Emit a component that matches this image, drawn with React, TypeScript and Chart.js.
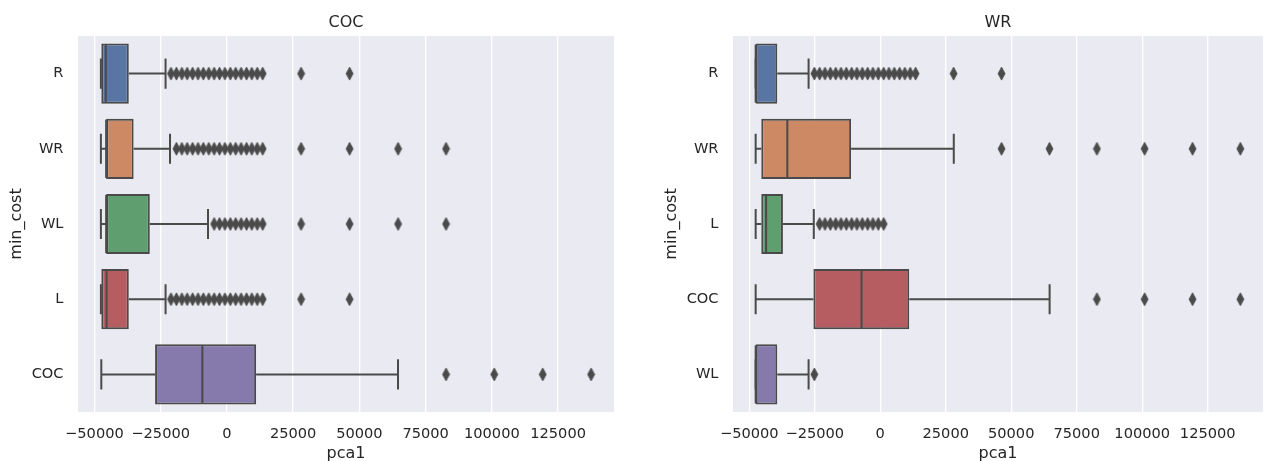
import React, { useEffect, useRef } from 'react';
import { Chart, registerables } from 'chart.js';

Chart.register(...registerables);

const FONT = '"DejaVu Sans", sans-serif';
const TEXT = '#262626';
const EDGE = '#4a4a4a';
const BG = '#eaeaf2';

const xTicks = [-50000, -25000, 0, 25000, 50000, 75000, 100000, 125000];
const xMin = -56200;
const xMax = 146100;
const palette = ['#5875a4', '#cc8963', '#5f9e6e', '#b55d60', '#857aab'];

// ---- Left panel: "COC" ----
const leftTitle = 'COC';
const leftCategories = ['R', 'WR', 'WL', 'L', 'COC'];
const leftLow = [-47560, -47560, -47560, -47560, -47400];
const leftQ1 = [-47400, -45580, -45580, -47400, -27110];
const leftMedian = [-45730, -45580, -45580, -45420, -9260];
const leftQ3 = [-37030, -35200, -29100, -37030, 11030];
const leftHigh = [-23150, -21470, -7130, -23150, 64580];
const leftOutR = [-21100, -19050, -17000, -15000, -12950, -10900, -8900, -6850, -4800, -2800, -750, 1300, 3300, 5350, 7400, 9400, 11450, 13500, 28000, 46300];
const leftOutWR = [-19050, -17000, -15000, -12950, -10900, -8900, -6850, -4800, -2800, -750, 1300, 3300, 5350, 7400, 9400, 11450, 13500, 28000, 46300, 64600, 82700];
const leftOutWL = [-4800, -2800, -750, 1300, 3300, 5350, 7400, 9400, 11450, 13500, 28000, 46300, 64600, 82700];
const leftOutL = [-21100, -19050, -17000, -15000, -12950, -10900, -8900, -6850, -4800, -2800, -750, 1300, 3300, 5350, 7400, 9400, 11450, 13500, 28000, 46300];
const leftOutCOC = [82700, 100900, 119200, 137450];

// ---- Right panel: "WR" ----
const rightTitle = 'WR';
const rightCategories = ['R', 'WR', 'L', 'COC', 'WL'];
const rightLow = [-47550, -47550, -47550, -47550, -47550];
const rightQ1 = [-47550, -45410, -45410, -25510, -47550];
const rightMedian = [-47550, -35460, -43570, -7140, -47550];
const rightQ3 = [-39290, -11120, -37140, 11080, -39290];
const rightHigh = [-27350, 28070, -25360, 64650, -27350];
const rightOutR = [-25150, -23150, -21100, -19050, -17000, -15000, -12950, -10900, -8900, -6850, -4800, -2800, -750, 1300, 3300, 5350, 7400, 9400, 11450, 13500, 28000, 46300];
const rightOutWR = [46300, 64600, 82700, 100900, 119200, 137450];
const rightOutL = [-23150, -21100, -19050, -17000, -15000, -12950, -10900, -8900, -6850, -4800, -2800, -750, 1300];
const rightOutCOC = [82700, 100900, 119200, 137450];
const rightOutWL = [-25150];

function makeDiamond(): HTMLCanvasElement {
  const c = document.createElement('canvas');
  c.width = 9;
  c.height = 15;
  const g = c.getContext('2d')!;
  g.beginPath();
  g.moveTo(4.5, 1);
  g.lineTo(8, 7.5);
  g.lineTo(4.5, 14);
  g.lineTo(1, 7.5);
  g.closePath();
  g.fillStyle = EDGE;
  g.fill();
  g.lineWidth = 0.8;
  g.strokeStyle = EDGE;
  g.stroke();
  return c;
}

type PanelProps = {
  left: number;
  title: string;
  categories: string[];
  low: number[];
  q1: number[];
  median: number[];
  q3: number[];
  high: number[];
  outliers: number[][];
  yAxisWidth: number;
  yTitlePad: number;
  padRight: number;
};

function BoxPanel(p: PanelProps) {
  const ref = useRef<HTMLCanvasElement | null>(null);
  useEffect(() => {
    if (!ref.current) return;
    const diamond = makeDiamond();
    const outlierPoints: { x: number; y: string }[] = [];
    p.outliers.forEach((arr, i) => arr.forEach((v) => outlierPoints.push({ x: v, y: p.categories[i] })));

    const boxParts = {
      id: 'boxParts',
      beforeDraw(chart: any) {
        const { ctx, chartArea: a } = chart;
        ctx.save();
        ctx.fillStyle = BG;
        ctx.fillRect(a.left, a.top, a.right - a.left, a.bottom - a.top);
        ctx.restore();
      },
      beforeDatasetsDraw(chart: any) {
        const { ctx } = chart;
        const xs = chart.scales.x;
        const ys = chart.scales.y;
        const band = Math.abs(ys.getPixelForValue(1) - ys.getPixelForValue(0));
        const cap = band * 0.8 * 0.25;
        ctx.save();
        ctx.strokeStyle = EDGE;
        ctx.lineWidth = 2;
        p.categories.forEach((_, i) => {
          const y = ys.getPixelForValue(i);
          const lo = xs.getPixelForValue(p.low[i]);
          const a = xs.getPixelForValue(p.q1[i]);
          const b = xs.getPixelForValue(p.q3[i]);
          const hi = xs.getPixelForValue(p.high[i]);
          ctx.beginPath();
          ctx.moveTo(lo, y);
          ctx.lineTo(a, y);
          ctx.moveTo(b, y);
          ctx.lineTo(hi, y);
          ctx.moveTo(lo, y - cap);
          ctx.lineTo(lo, y + cap);
          ctx.moveTo(hi, y - cap);
          ctx.lineTo(hi, y + cap);
          ctx.stroke();
        });
        ctx.restore();
      },
      afterDatasetsDraw(chart: any) {
        const { ctx } = chart;
        const xs = chart.scales.x;
        const ys = chart.scales.y;
        const band = Math.abs(ys.getPixelForValue(1) - ys.getPixelForValue(0));
        const half = band * 0.8 * 0.5;
        ctx.save();
        ctx.strokeStyle = EDGE;
        ctx.lineWidth = 2;
        p.categories.forEach((_, i) => {
          const y = ys.getPixelForValue(i);
          const m = xs.getPixelForValue(p.median[i]);
          ctx.beginPath();
          ctx.moveTo(m, y - half + 1);
          ctx.lineTo(m, y + half - 1);
          ctx.stroke();
        });
        ctx.restore();
      },
    };

    const chart = new Chart(ref.current, {
      type: 'bar',
      data: {
        labels: p.categories,
        datasets: [
          {
            type: 'line',
            data: outlierPoints as any,
            showLine: false,
            pointStyle: diamond as any,
            pointRadius: 4,
            pointBackgroundColor: EDGE,
            pointBorderColor: EDGE,
          } as any,
          {
            type: 'bar',
            data: p.q1.map((v, i) => [v, p.q3[i]]) as any,
            backgroundColor: palette,
            borderColor: EDGE,
            borderWidth: 2,
            borderSkipped: false,
            categoryPercentage: 0.8,
            barPercentage: 1,
          } as any,
        ],
      },
      options: {
        indexAxis: 'y',
        animation: false,
        responsive: false,
        maintainAspectRatio: false,
        events: [],
        layout: { padding: { left: 0, right: p.padRight, top: 0, bottom: 0 } },
        plugins: {
          legend: { display: false },
          tooltip: { enabled: false },
          title: {
            display: true,
            text: p.title,
            fullSize: false,
            color: TEXT,
            font: { family: FONT, size: 16, weight: 'normal' },
            padding: { top: 13.2, bottom: 3.6 },
          },
        },
        scales: {
          x: {
            type: 'linear',
            min: xMin,
            max: xMax,
            afterBuildTicks: (s: any) => {
              s.ticks = xTicks.map((value) => ({ value }));
            },
            afterFit: (s: any) => {
              s.height = 49;
            },
            grid: { color: '#ffffff', lineWidth: 1.3, drawTicks: false },
            border: { display: false },
            ticks: {
              padding: 13,
              color: TEXT,
              font: { family: FONT, size: 14.6 },
              maxRotation: 0,
              autoSkip: false,
              callback: (v: any) => {
                const n = Number(v);
                return n < 0 ? '\u2212' + Math.abs(n) : String(n);
              },
            },
            title: {
              display: true,
              text: 'pca1',
              color: TEXT,
              font: { family: FONT, size: 16 },
              padding: { top: -2, bottom: -2 },
            },
          },
          y: {
            type: 'category',
            offset: true,
            afterFit: (s: any) => {
              s.width = p.yAxisWidth;
            },
            grid: { display: false, drawTicks: false },
            border: { display: false },
            ticks: { padding: 14.5, color: TEXT, font: { family: FONT, size: 14.6 } },
            title: {
              display: true,
              text: 'min_cost',
              color: TEXT,
              font: { family: FONT, size: 16 },
              padding: { top: p.yTitlePad, bottom: p.yTitlePad },
            },
          },
        },
      } as any,
      plugins: [boxParts as any],
    });
    return () => chart.destroy();
  }, []);
  return (
    <canvas
      ref={ref}
      width={634}
      height={461}
      style={{ position: 'absolute', left: p.left, top: 0, width: 634, height: 461 }}
    />
  );
}

export default function App() {
  return (
    <div style={{ position: 'absolute', left: 0, top: 0, width: 1268, height: 461, background: '#ffffff', overflow: 'hidden' }}>
      <BoxPanel
        left={0}
        title={leftTitle}
        categories={leftCategories}
        low={leftLow}
        q1={leftQ1}
        median={leftMedian}
        q3={leftQ3}
        high={leftHigh}
        outliers={[leftOutR, leftOutWR, leftOutWL, leftOutL, leftOutCOC]}
        yAxisWidth={78}
        yTitlePad={7.6}
        padRight={20}
      />
      <BoxPanel
        left={634}
        title={rightTitle}
        categories={rightCategories}
        low={rightLow}
        q1={rightQ1}
        median={rightMedian}
        q3={rightQ3}
        high={rightHigh}
        outliers={[rightOutR, rightOutWR, rightOutL, rightOutCOC, rightOutWL]}
        yAxisWidth={99}
        yTitlePad={28}
        padRight={0}
      />
    </div>
  );
}
